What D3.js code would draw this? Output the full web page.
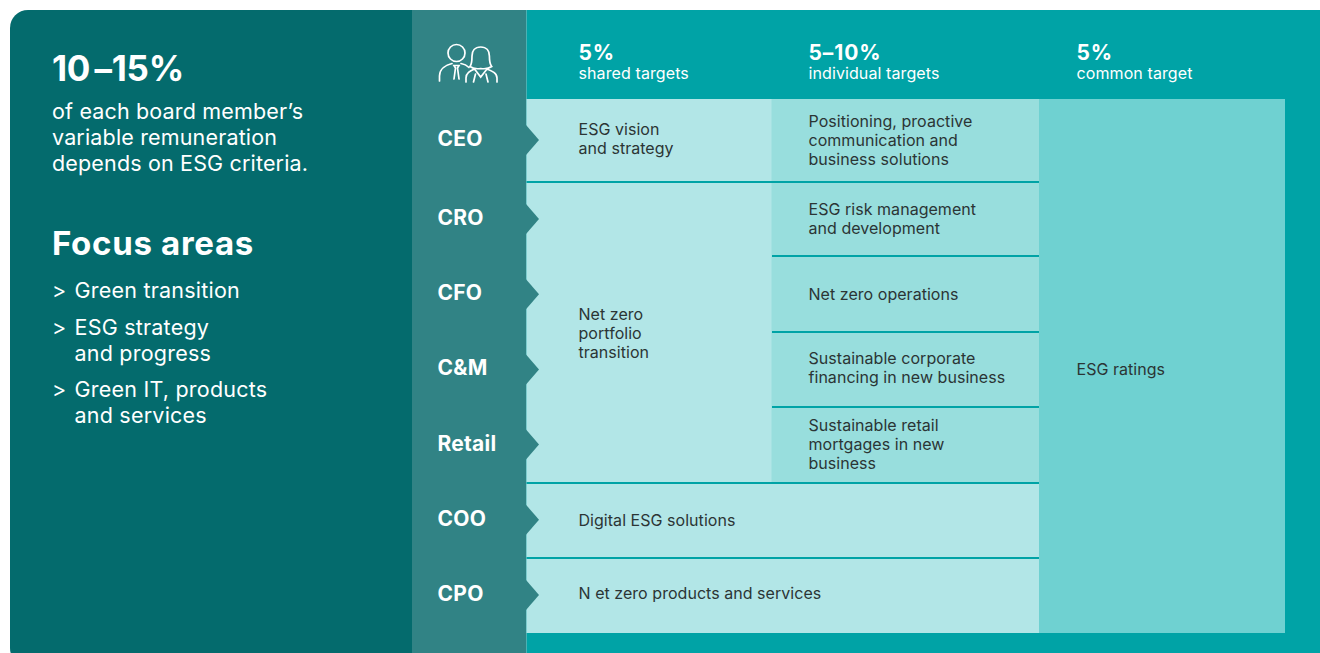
<!DOCTYPE html>
<html>
<head>
<meta charset="utf-8">
<script src="https://d3js.org/d3.v7.min.js"></script>
<style>
  html, body { margin: 0; padding: 0; background: #fff; overflow: hidden; }
  svg { display: block; }
  text { font-family: Inter, "Noto Sans", sans-serif; }
</style>
</head>
<body>
<script>
// chart content
var roles = ['CEO', 'CRO', 'CFO', 'C&M', 'Retail', 'COO', 'CPO'];
var headPct = ['5%', '5\u201310%', '5%'];
var headLabel = ['shared targets', 'individual targets', 'common target'];
var introLines = ['of each board member\u2019s', 'variable remuneration', 'depends on ESG criteria.'];
var focusItems = [['Green transition'], ['ESG strategy', 'and progress'], ['Green IT, products', 'and services']];

// cells: first/last column and row index (end exclusive), text lines
var sharedCells = [
  {c0: 0, c1: 1, r0: 0, r1: 1, lines: ['ESG vision', 'and strategy']},
  {c0: 0, c1: 1, r0: 1, r1: 5, lines: ['Net zero', 'portfolio', 'transition']},
  {c0: 0, c1: 2, r0: 5, r1: 6, lines: ['Digital ESG solutions']},
  {c0: 0, c1: 2, r0: 6, r1: 7, lines: ['N et zero products and services']}
];
var individualCells = [
  {c0: 1, c1: 2, r0: 0, r1: 1, lines: ['Positioning, proactive', 'communication and', 'business solutions']},
  {c0: 1, c1: 2, r0: 1, r1: 2, lines: ['ESG risk management', 'and development']},
  {c0: 1, c1: 2, r0: 2, r1: 3, lines: ['Net zero operations']},
  {c0: 1, c1: 2, r0: 3, r1: 4, lines: ['Sustainable corporate', 'financing in new business']},
  {c0: 1, c1: 2, r0: 4, r1: 5, lines: ['Sustainable retail', 'mortgages in new', 'business']}
];
var commonCells = [
  {c0: 2, c1: 3, r0: 0, r1: 7, lines: ['ESG ratings']}
];
var dividers = [
  {c0: 0, c1: 2, r: 1},
  {c0: 1, c1: 2, r: 2},
  {c0: 1, c1: 2, r: 3},
  {c0: 1, c1: 2, r: 4},
  {c0: 0, c1: 2, r: 5},
  {c0: 0, c1: 2, r: 6}
];

var width = 1320, height = 653;
var dark = '#046b6d', mid = '#318385', teal = '#00a3a6',
    light = '#b2e6e7', medium = '#98dedd', strong = '#6fd1d1', ink = '#2b3535';

var x = d3.scaleLinear().domain([0, 1, 2, 3]).range([526, 771.5, 1039, 1285]);
var y = d3.scaleLinear().domain(d3.range(8)).range([99, 182, 256, 332, 407, 483, 558, 633]);

var svg = d3.select('body').append('svg').attr('width', width).attr('height', height);

svg.append('clipPath').attr('id', 'card')
  .append('rect').attr('x', 10).attr('y', 10).attr('width', 1330).attr('height', 656).attr('rx', 18);

var card = svg.append('g').attr('clip-path', 'url(#card)');

card.append('rect').attr('x', 10).attr('y', 10).attr('width', 402).attr('height', 660).attr('fill', dark);
card.append('rect').attr('x', 412).attr('y', 10).attr('width', 114.5).attr('height', 660).attr('fill', mid);
card.append('rect').attr('x', 526.5).attr('y', 10).attr('width', 800).attr('height', 660).attr('fill', teal);

// left panel
var left = svg.append('g').attr('fill', '#fff');
var big = left.append('text').attr('x', 52).attr('y', 80.5).attr('font-size', 35).attr('font-weight', 700)
  .attr('letter-spacing', -0.3);
big.append('tspan').text('10');
big.append('tspan').attr('dx', 4.5).text('\u2013');
big.append('tspan').attr('dx', 0).text('15%');
left.selectAll('.intro').data(introLines).enter().append('text')
  .attr('class', 'intro')
  .attr('x', 52).attr('y', function(d, i) { return 119 + i * 26; })
  .attr('font-size', 21.5).attr('letter-spacing', 0.16).text(function(d) { return d; });
left.append('text').attr('x', 52).attr('y', 255).attr('font-size', 33).attr('font-weight', 700)
  .attr('letter-spacing', 0.7).text('Focus areas');

var focusTop = [298, 335, 397];
focusItems.forEach(function(lines, i) {
  left.append('text').attr('x', 52).attr('y', focusTop[i]).attr('font-size', 21.5).text('>');
  lines.forEach(function(line, j) {
    left.append('text').attr('x', 74.5).attr('y', focusTop[i] + j * 26).attr('font-size', 21.5)
      .attr('letter-spacing', 0.22).text(line);
  });
});

// table cells
function drawCells(cells, fill) {
  card.selectAll(null).data(cells).enter().append('rect')
    .attr('x', function(d) { return x(d.c0) + (d.c0 === 0 ? 0.5 : 0); })
    .attr('y', function(d) { return y(d.r0); })
    .attr('width', function(d) { return x(d.c1) - x(d.c0); })
    .attr('height', function(d) { return y(d.r1) - y(d.r0); })
    .attr('fill', fill);
}
drawCells(sharedCells, light);
drawCells(individualCells, medium);
drawCells(commonCells, strong);

card.selectAll('.divider').data(dividers).enter().append('line')
  .attr('class', 'divider')
  .attr('x1', function(d) { return x(d.c0) + 0.5; })
  .attr('x2', function(d) { return x(d.c1); })
  .attr('y1', function(d) { return y(d.r); })
  .attr('y2', function(d) { return y(d.r); })
  .attr('stroke', teal).attr('stroke-width', 2);

// cell labels, baseline nudged per cell to sit where the original does
function cellText(cells, pad, nudges) {
  cells.forEach(function(d, k) {
    var cy = (y(d.r0) + y(d.r1)) / 2;
    var n = d.lines.length;
    d.lines.forEach(function(line, i) {
      svg.append('text')
        .attr('x', x(d.c0) + pad)
        .attr('y', Math.floor(cy + (i - (n - 1) / 2) * 19 + 5) + nudges[k])
        .attr('font-size', 16).attr('letter-spacing', 0.04).attr('fill', ink).text(line);
    });
  });
}
cellText(sharedCells, 52.5, [-1, 2, 0.5, -1]);
cellText(individualCells, 37, [1, 1, 1, -1, 0]);
cellText(commonCells, 37.5, [4]);

// header
var headX = [578.5, 808.5, 1076.5];
headPct.forEach(function(p, i) {
  svg.append('text').attr('x', headX[i]).attr('y', 60).attr('font-size', 21).attr('font-weight', 700)
    .attr('letter-spacing', 0.9).attr('fill', '#fff').text(p);
  svg.append('text').attr('x', headX[i]).attr('y', 79).attr('font-size', 16)
    .attr('letter-spacing', 0.1).attr('fill', '#fff').text(headLabel[i]);
});

// role labels with arrow notches
var roleY = d3.scaleLinear().domain([0, 1, 6]).range([140, 219, 595]);
var arrows = svg.append('g').attr('fill', mid);
roles.forEach(function(r, i) {
  var cy = roleY(i);
  arrows.append('path').attr('d', d3.line()([[526, cy - 15], [539, cy], [526, cy + 15]]));
  svg.append('text').attr('x', 437.5).attr('y', cy + 5.5 + (i > 3 ? 0.5 : 0)).attr('font-size', 21).attr('font-weight', 700)
    .attr('letter-spacing', 0.25).attr('fill', '#fff').text(r);
});

// people icon
var icon = svg.append('g').attr('transform', 'translate(439,44)')
  .attr('fill', 'none').attr('stroke', '#fff').attr('stroke-width', 1.7).attr('stroke-linecap', 'round');
icon.append('circle').attr('cx', 17.5).attr('cy', 9).attr('r', 8.5);
icon.append('path').attr('d', 'M0.5 37 V32 C0.5 25 7 21 13 19.5 M22 19.5 C25 20 28 21.5 30 23.5');
icon.append('path').attr('d', 'M15 35 L16.5 24 L15 21.5 H20 L18.5 24 L20 35');
icon.append('path').attr('d', 'M41.7 3 C35.7 3 33 7 33 12 C33 17 33 20 31 22.5 C34 25 38 25 41.7 24.5 C45.4 25 49.4 25 52.7 22.5 C50.5 20 50.4 17 50.4 12 C50.4 7 47.7 3 41.7 3');
icon.append('path').attr('d', 'M27 38 V34 C27 29 31 27 35.5 25 L41.7 33 L48 25 C53 27 58 29 58 34 V38 M34.5 38 L36.5 30 M49 38 L47 30');
</script>
</body>
</html>
